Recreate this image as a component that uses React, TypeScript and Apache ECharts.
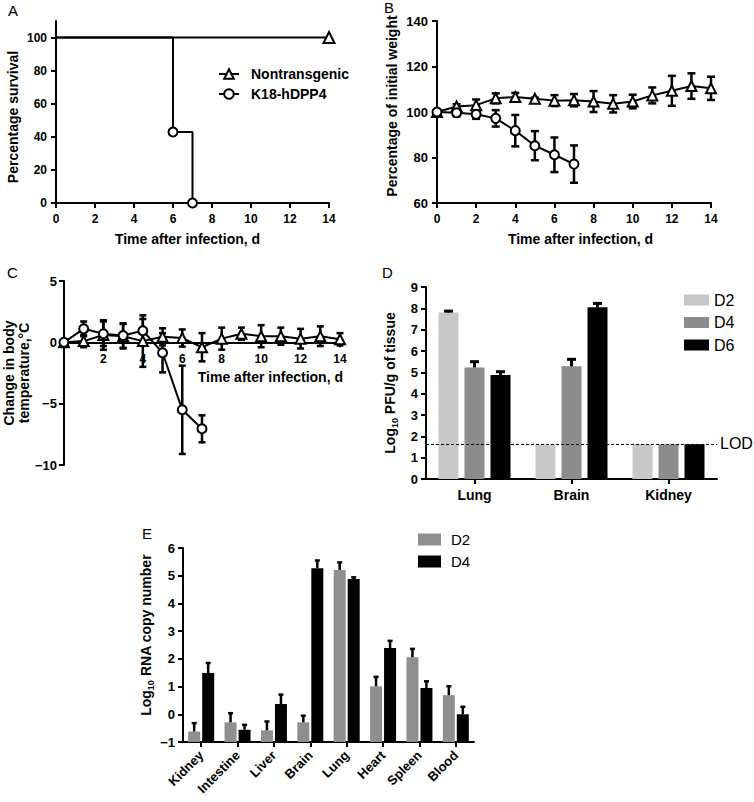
import React, { useEffect, useRef } from 'react';
import * as echarts from 'echarts';

const FONT = '"Liberation Sans", Arial, Helvetica, sans-serif';

// ---------- Panel A: survival ----------
const survivalDaysNT = [0, 14];
const survivalNT = [100, 100];
const survivalDaysK18 = [0, 6, 7];
const survivalK18 = [100, 42.9, 0];
const survivalTicks = [0, 20, 40, 60, 80, 100];

// ---------- Panel B: weight ----------
const daysNT = [0, 1, 2, 3, 4, 5, 6, 7, 8, 9, 10, 11, 12, 13, 14];
const daysK18 = [0, 1, 2, 3, 4, 5, 6, 7];
const weightNT = [100, 102.4, 103, 106, 106.6, 105.8, 105, 105.2, 104.6, 103.6, 104.6, 107.3, 109.3, 111.4, 110.4];
const weightNTErr = [0.5, 1, 2.5, 2.2, 1.8, 0.5, 2.4, 2.7, 4.6, 3.8, 3, 3.5, 6.6, 5.6, 5.1];
const weightK18 = [100, 99.7, 99, 97.2, 91.8, 85.2, 81.2, 77.1];
const weightK18Err = [0.5, 1.6, 2, 3.6, 6.9, 6.4, 7.6, 8.2];

// ---------- Panel C: temperature ----------
const tempNT = [0, 0.1, 0.6, 0.5, 0.1, 0.45, 0.35, -0.4, 0.3, 0.7, 0.5, 0.5, 0.3, 0.5, 0.25];
const tempNTErr = [0, 0.5, 1.2, 1.0, 2.1, 0.7, 0.7, 1.15, 0.9, 0.5, 0.9, 0.7, 0.8, 0.8, 0.5];
const tempK18 = [0, 1.1, 0.7, 0.55, 0.95, -0.85, -5.5, -7.05];
const tempK18Err = [0, 0.6, 1.0, 1.0, 0.95, 1.6, 3.6, 1.1];
const TEMP_MIN = -10;
const TEMP_MAX = 5;

// ---------- Panel D: PFU ----------
const tissuesD = ['Lung', 'Brain', 'Kidney'];
const pfuD2 = [7.8, 1.63, 1.63];
const pfuD2Err = [0.07, 0, 0];
const pfuD4 = [5.23, 5.28, 1.63];
const pfuD4Err = [0.27, 0.33, 0];
const pfuD6 = [4.88, 8.05, 1.63];
const pfuD6Err = [0.15, 0.18, 0];
const LOD = 1.65;

// ---------- Panel E: RNA ----------
const organsE = ['Kidney', 'Intestine', 'Liver', 'Brain', 'Lung', 'Heart', 'Spleen', 'Blood'];
const rnaD2 = [-0.62, -0.29, -0.58, -0.29, 5.21, 1.01, 2.06, 0.69];
const rnaD2Err = [0.3, 0.33, 0.32, 0.24, 0.27, 0.34, 0.3, 0.32];
const rnaD4 = [1.49, -0.56, 0.37, 5.27, 4.88, 2.39, 0.95, 0.0];
const rnaD4Err = [0.36, 0.18, 0.34, 0.28, 0.06, 0.26, 0.24, 0.27];

const C_D2 = '#c8c8c8';
const C_D4 = '#8c8c8c';
const C_E2 = '#8f8f8f';

const GRID_C_H = 184;

const AL = { show: true, onZero: false, lineStyle: { color: '#000', width: 2 } };
const AT = { show: true, length: 5, lineStyle: { color: '#000', width: 2 } };
const LBL = { color: '#000', fontWeight: 'bold', fontSize: 12, fontFamily: FONT };
const NTS = { color: '#000', fontWeight: 'bold', fontSize: 14, fontFamily: FONT };
const minus = (v: number) => String(v).replace('-', '\u2212');

function errSeries(name: string, idx: number, days: number[], vals: number[], errs: number[], capHalf: number, lw: number) {
  return {
    type: 'custom',
    name,
    xAxisIndex: idx,
    yAxisIndex: idx,
    z: 2,
    silent: true,
    data: days.map((d, i) => [d, vals[i], errs[i]]),
    renderItem: (params: any, api: any) => {
      const x = api.value(0);
      const y = api.value(1);
      const e = api.value(2);
      if (!e) return { type: 'group', children: [] };
      const t = api.coord([x, y + e]);
      const b = api.coord([x, y - e]);
      const st = { stroke: '#000', lineWidth: lw };
      return {
        type: 'group',
        children: [
          { type: 'line', shape: { x1: t[0], y1: t[1], x2: b[0], y2: b[1] }, style: st },
          { type: 'line', shape: { x1: t[0] - capHalf, y1: t[1], x2: t[0] + capHalf, y2: t[1] }, style: st },
          { type: 'line', shape: { x1: b[0] - capHalf, y1: b[1], x2: b[0] + capHalf, y2: b[1] }, style: st },
        ],
      };
    },
  };
}

function lineSeries(name: string, idx: number, days: number[], vals: number[], tri: boolean) {
  return {
    type: 'line',
    name,
    xAxisIndex: idx,
    yAxisIndex: idx,
    z: 3,
    data: days.map((d, i) => [d, vals[i]]),
    symbol: tri ? 'emptyTriangle' : 'emptyCircle',
    symbolSize: tri ? 10 : 9,
    itemStyle: { color: '#000', borderWidth: tri ? 2 : 2.5 },
    lineStyle: { color: '#000', width: 2 },
  };
}

// one-sided error bars for grouped bars in D
function barErrSeries(name: string, vals: number[], errs: number[], slot: number) {
  return {
    type: 'custom',
    name,
    xAxisIndex: 3,
    yAxisIndex: 3,
    z: 4,
    silent: true,
    data: vals.map((v, i) => [i, v, errs[i]]),
    renderItem: (params: any, api: any) => {
      const i = api.value(0);
      const v = api.value(1);
      const e = api.value(2);
      if (!e) return { type: 'group', children: [] };
      const p = api.coord([i, v]);
      const t = api.coord([i, v + e]);
      const cx = p[0] + slot * 26;
      const st = { stroke: '#000', lineWidth: 3 };
      return {
        type: 'group',
        children: [
          { type: 'line', shape: { x1: cx, y1: p[1], x2: cx, y2: t[1] }, style: st },
          { type: 'line', shape: { x1: cx - 4.5, y1: t[1], x2: cx + 4.5, y2: t[1] }, style: st },
        ],
      };
    },
  };
}

// bars from axis bottom (-1) plus one-sided error bars in E
function rnaSeries(name: string, vals: number[], errs: number[], slot: number, color: string) {
  return {
    type: 'custom',
    name,
    xAxisIndex: 4,
    yAxisIndex: 4,
    z: 3,
    data: vals.map((v, i) => [i, v, errs[i]]),
    renderItem: (params: any, api: any) => {
      const i = api.value(0);
      const v = api.value(1);
      const e = api.value(2);
      const p = api.coord([i, v]);
      const base = api.coord([i, -1]);
      const t = api.coord([i, v + e]);
      const cx = p[0] + slot * 7;
      const st = { stroke: '#000', lineWidth: 2.5 };
      return {
        type: 'group',
        children: [
          { type: 'rect', shape: { x: cx - 6, y: p[1], width: 12, height: base[1] - p[1] }, style: { fill: color } },
          { type: 'line', shape: { x1: cx, y1: p[1], x2: cx, y2: t[1] }, style: st },
          { type: 'line', shape: { x1: cx - 2.5, y1: t[1], x2: cx + 2.5, y2: t[1] }, style: st },
        ],
      };
    },
  };
}

const subRich = { sub: { fontSize: 9, fontWeight: 'bold', lineHeight: 9, verticalAlign: 'bottom', color: '#000', fontFamily: FONT } };

const option: any = {
  animation: false,
  backgroundColor: '#fff',
  textStyle: { fontFamily: FONT },
  grid: [
    { left: 56, top: 21, width: 273, height: 182 },
    { left: 437, top: 21, width: 274, height: 182 },
    { left: 62, top: 281, width: 278, height: GRID_C_H },
    { left: 426, top: 287, width: 291, height: 192 },
    { left: 183, top: 548, width: 291, height: 194 },
  ],
  xAxis: [
    {
      gridIndex: 0, type: 'value', min: 0, max: 14, interval: 2,
      axisLine: AL, axisTick: AT, axisLabel: { ...LBL, margin: 10 }, splitLine: { show: false },
      name: 'Time after infection, d', nameLocation: 'middle', nameGap: 29,
      nameTextStyle: { ...NTS, padding: [0, 10, 0, 0] },
    },
    {
      gridIndex: 1, type: 'value', min: 0, max: 14, interval: 2,
      axisLine: AL, axisTick: AT, axisLabel: { ...LBL, margin: 10 }, splitLine: { show: false },
      name: 'Time after infection, d', nameLocation: 'middle', nameGap: 29,
      nameTextStyle: { ...NTS, padding: [0, 0, 0, 13] },
    },
    {
      gridIndex: 2, type: 'value', min: 0, max: 14, interval: 2,
      position: 'bottom',
      // the x axis crosses the y axis at 0 °C
      offset: -GRID_C_H * (0 - TEMP_MIN) / (TEMP_MAX - TEMP_MIN),
      axisLine: { show: true, onZero: false, lineStyle: { color: '#000', width: 2 } },
      axisTick: AT,
      axisLabel: { ...LBL, margin: 11, showMinLabel: false }, splitLine: { show: false },
    },
    {
      gridIndex: 3, type: 'category', data: tissuesD,
      axisLine: AL, axisTick: { ...AT, alignWithLabel: true },
      axisLabel: { ...LBL, fontSize: 14, margin: 9 },
    },
    {
      gridIndex: 4, type: 'category', data: organsE,
      axisLine: AL, axisTick: { ...AT, alignWithLabel: true },
      axisLabel: { ...LBL, fontSize: 13, rotate: 45, interval: 0, margin: 11 },
    },
  ],
  yAxis: [
    {
      gridIndex: 0, type: 'value', min: 0, max: 110, interval: 20,
      axisLine: AL, axisTick: { ...AT, customValues: survivalTicks },
      axisLabel: { ...LBL, margin: 9, customValues: survivalTicks }, splitLine: { show: false },
      name: 'Percentage survival', nameLocation: 'middle', nameGap: 36,
      nameTextStyle: { ...NTS, padding: [0, 10, 0, 0] },
    },
    {
      gridIndex: 1, type: 'value', min: 60, max: 140, interval: 20,
      axisLine: AL, axisTick: AT, axisLabel: { ...LBL, fontSize: 13, margin: 9 }, splitLine: { show: false },
      name: 'Percentage of initial weight', nameLocation: 'middle', nameGap: 38,
      nameTextStyle: { ...NTS, padding: [0, 0, 0, 12] },
    },
    {
      gridIndex: 2, type: 'value', min: TEMP_MIN, max: TEMP_MAX, interval: 5,
      axisLine: AL, axisTick: AT, axisLabel: { ...LBL, fontSize: 13, margin: 7, formatter: minus }, splitLine: { show: false },
      name: 'Change in body\ntemperature,\u00b0C', nameLocation: 'middle', nameGap: 30,
      nameTextStyle: { ...NTS, lineHeight: 15 },
    },
    {
      gridIndex: 3, type: 'value', min: 0, max: 9, interval: 1,
      axisLine: AL, axisTick: AT, axisLabel: { ...LBL, fontSize: 13, margin: 8 }, splitLine: { show: false },
      name: 'Log{sub|10} PFU/g of tissue', nameLocation: 'middle', nameGap: 27,
      nameTextStyle: { ...NTS, lineHeight: 18, rich: subRich },
    },
    {
      gridIndex: 4, type: 'value', min: -1, max: 6, interval: 1,
      axisLine: AL, axisTick: AT, axisLabel: { ...LBL, fontSize: 13, margin: 8, formatter: minus }, splitLine: { show: false },
      name: 'Log{sub|10} RNA copy number', nameLocation: 'middle', nameGap: 28,
      nameTextStyle: { ...NTS, lineHeight: 18, padding: [0, 0, 0, 20], rich: subRich },
    },
  ],
  legend: [
    {
      left: 218, top: 67, orient: 'vertical', padding: 0, itemWidth: 20, itemHeight: 12, itemGap: 6,
      selectedMode: false,
      data: ['Nontransgenic', 'K18-hDPP4'],
      textStyle: { fontSize: 14, fontWeight: 'bold', color: '#000', padding: [0, 0, 0, 7] },
    },
    {
      left: 684, top: 292, orient: 'vertical', padding: 0, itemWidth: 25, itemHeight: 11, itemGap: 6.5,
      selectedMode: false, icon: 'rect',
      data: [
        { name: 'D2', itemStyle: { color: C_D2 } },
        { name: 'D4', itemStyle: { color: C_D4 } },
        { name: 'D6', itemStyle: { color: '#000' } },
      ],
      textStyle: { fontSize: 16, color: '#000' },
    },
    {
      left: 418, top: 532, orient: 'vertical', padding: 0, itemWidth: 23, itemHeight: 12, itemGap: 7,
      selectedMode: false, icon: 'rect',
      data: [
        { name: 'D2', itemStyle: { color: C_E2 } },
        { name: 'D4', itemStyle: { color: '#000' } },
      ],
      textStyle: { fontSize: 15, color: '#000', padding: [0, 0, 0, 5] },
    },
  ],
  graphic: [
    { type: 'text', x: 8, y: 3, style: { text: 'A', font: `15px ${FONT}`, fill: '#000' } },
    { type: 'text', x: 384, y: 0, style: { text: 'B', font: `15px ${FONT}`, fill: '#000' } },
    { type: 'text', x: 7, y: 265, style: { text: 'C', font: `15px ${FONT}`, fill: '#000' } },
    { type: 'text', x: 382, y: 265, style: { text: 'D', font: `15px ${FONT}`, fill: '#000' } },
    { type: 'text', x: 142, y: 526, style: { text: 'E', font: `15px ${FONT}`, fill: '#000' } },
    {
      type: 'text', x: 343, y: 377,
      style: { text: 'Time after infection, d', font: `bold 14px ${FONT}`, fill: '#000', align: 'right', verticalAlign: 'middle', textAlign: 'right', textVerticalAlign: 'middle' },
    },
  ],
  series: [
    // A
    {
      type: 'line', name: 'Nontransgenic', xAxisIndex: 0, yAxisIndex: 0, z: 3,
      data: survivalDaysNT.map((d, i) => (i === 0 ? { value: [d, survivalNT[i]], symbol: 'none' } : [d, survivalNT[i]])),
      symbol: 'emptyTriangle', symbolSize: 11,
      itemStyle: { color: '#000', borderWidth: 2 }, lineStyle: { color: '#000', width: 2 },
    },
    {
      type: 'line', name: 'K18-hDPP4', xAxisIndex: 0, yAxisIndex: 0, z: 3, step: 'end',
      data: survivalDaysK18.map((d, i) => (i === 0 ? { value: [d, survivalK18[i]], symbol: 'none' } : [d, survivalK18[i]])),
      symbol: 'emptyCircle', symbolSize: 9,
      itemStyle: { color: '#000', borderWidth: 2.5 }, lineStyle: { color: '#000', width: 2 },
    },
    // B
    errSeries('errB1', 1, daysNT, weightNT, weightNTErr, 4, 2.5),
    errSeries('errB2', 1, daysK18, weightK18, weightK18Err, 4, 2.5),
    lineSeries('Nontransgenic', 1, daysNT, weightNT, true),
    lineSeries('K18-hDPP4', 1, daysK18, weightK18, false),
    // C
    errSeries('errC1', 2, daysNT, tempNT, tempNTErr, 3.5, 2.5),
    errSeries('errC2', 2, daysK18, tempK18, tempK18Err, 3.5, 2.5),
    lineSeries('Nontransgenic', 2, daysNT, tempNT, true),
    lineSeries('K18-hDPP4', 2, daysK18, tempK18, false),
    // D
    { type: 'bar', name: 'D2', xAxisIndex: 3, yAxisIndex: 3, data: pfuD2, barWidth: 20, barGap: '30%', itemStyle: { color: C_D2 } },
    { type: 'bar', name: 'D4', xAxisIndex: 3, yAxisIndex: 3, data: pfuD4, barWidth: 20, barGap: '30%', itemStyle: { color: C_D4 } },
    {
      type: 'bar', name: 'D6', xAxisIndex: 3, yAxisIndex: 3, data: pfuD6, barWidth: 20, barGap: '30%', itemStyle: { color: '#000' },
      markLine: {
        silent: true, symbol: ['none', 'none'],
        data: [{ yAxis: LOD }],
        lineStyle: { color: '#000', type: [3, 2], width: 1 },
        label: { show: true, position: 'end', formatter: 'LOD', color: '#000', fontSize: 16, distance: 3, fontFamily: FONT },
      },
    },
    barErrSeries('errD2', pfuD2, pfuD2Err, -1),
    barErrSeries('errD4', pfuD4, pfuD4Err, 0),
    barErrSeries('errD6', pfuD6, pfuD6Err, 1),
    // E
    rnaSeries('D2', rnaD2, rnaD2Err, -1, C_E2),
    rnaSeries('D4', rnaD4, rnaD4Err, 1, '#000'),
  ],
};

export default function App() {
  const ref = useRef<HTMLDivElement>(null);
  useEffect(() => {
    const chart = echarts.init(ref.current as HTMLDivElement, null, { renderer: 'svg' });
    chart.setOption(option);
    return () => chart.dispose();
  }, []);
  return (
    <div
      ref={ref}
      style={{ position: 'absolute', left: 0, top: 0, width: 754, height: 802, background: '#fff' }}
    />
  );
}
